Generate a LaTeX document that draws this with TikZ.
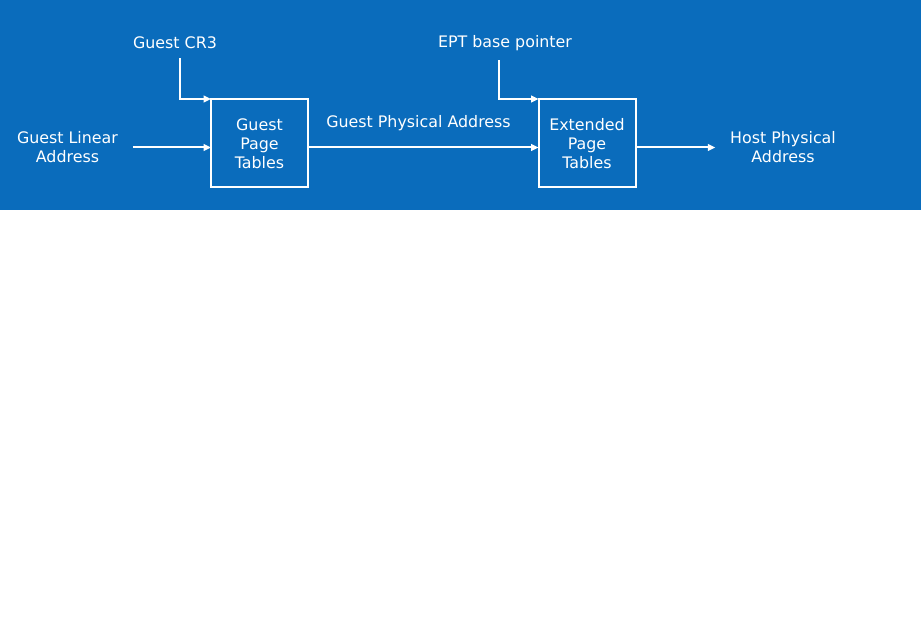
\documentclass[tikz,border=0pt]{standalone}
\usepackage{fontspec}
\setmainfont{DejaVu Sans}
\usetikzlibrary{arrows.meta, calc}
\definecolor{intelblue}{RGB}{10,108,188}
\tikzset{
	addr/.style={text=white, align=center, font=\fontsize{11.9}{14.25}\selectfont},
	tablebox/.style={addr, draw=white, line width=1.5pt, minimum width=72.75pt, minimum height=66pt, inner sep=0pt, outer sep=0pt},
	flow/.style={white, line width=1.5pt, -{Triangle[length=5.5pt, width=5pt]}},
}
\begin{document}
\begin{tikzpicture}[x=0.75pt, y=-0.75pt]
	\fill[white] (0, 0) rectangle (921, 620);
	\useasboundingbox (0, 0) rectangle (921, 620);
	\fill[intelblue] (0, 0) rectangle (921, 210);
	
	\node (gpt) at (259.5, 143.5) [tablebox] {Guest\\ Page\\ Tables};
	\node (ept) at (587, 143.5) [tablebox] {Extended\\ Page\\ Tables};
	
	\node (gla) at (67.5, 147.5) [addr, inner xsep=11pt] {Guest Linear\\ Address};
	\node (hpa) at (783, 147.5) [addr, inner xsep=11pt] {Host Physical\\ Address};
	\node (gpa) at (418.5, 123.5) [addr] {Guest Physical Address};
	
	\node (cr3) at (175, 43) [addr] {Guest CR3};
	\node (eptp) at (505, 43) [addr] {EPT base pointer};
	
	\coordinate (cr3bend) at (180, 99);
	\coordinate (eptpbend) at (499, 99);
	
	\draw[flow] (gla) -- (gla -| gpt.west);
	\draw[flow] (gpt.east |- gla) -- (ept.west |- gla);
	\draw[flow] (ept.east |- hpa) -- (hpa);
	
	\draw[flow, shorten <=3.5pt] (cr3.south -| cr3bend) -- (cr3bend) -- (cr3bend -| gpt.west);
	\draw[flow, shorten <=3.5pt] (eptp.south -| eptpbend) -- (eptpbend) -- (eptpbend -| ept.west);
\end{tikzpicture}
\end{document}
